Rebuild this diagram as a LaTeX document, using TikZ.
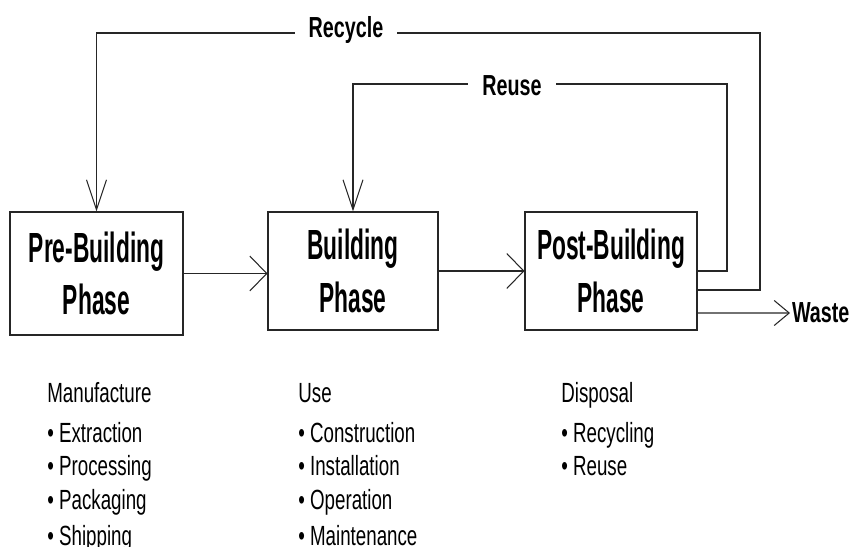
\documentclass[tikz,border=0pt]{standalone}
\usepackage{fontspec}
\setmainfont{Liberation Sans}
\newfontfamily\phasefont[FakeStretch=0.54]{Liberation Sans}
\newfontfamily\flowfont[FakeStretch=0.68]{Liberation Sans}
\newfontfamily\listfont[FakeStretch=0.675]{Liberation Sans}
\usetikzlibrary{arrows.meta}

\tikzset{
  phase/.style={draw=black!85,line width=.6pt,minimum height=2.36cm,inner sep=0pt,align=center,
    font=\phasefont\bfseries\fontsize{24}{31}\selectfont},
  flow/.style={inner sep=1pt,font=\flowfont\bfseries\fontsize{16.5}{18}\selectfont},
  listitem/.style={anchor=base west,inner sep=0pt,font=\listfont\fontsize{15.8}{18}\selectfont},
  link/.style={draw=black!85,line width=.6pt},
  harr/.style={link,-{Straight Barb[length=0.34cm,width=0.7cm]}},
  varr/.style={link,-{Straight Barb[length=0.6cm,width=0.4cm]}},
  warr/.style={link,-{Straight Barb[length=0.3cm,width=0.5cm]}}
}

\begin{document}
\begin{tikzpicture}[x=0.02cm,y=-0.02cm]
      \useasboundingbox (0,0) rectangle (849,547);

      % phases
      \node[phase,minimum width=3.46cm,minimum height=2.46cm] (pre) at (96.5,273.5) {Pre-Building\\[-1pt]Phase};
      \node[phase,minimum width=3.4cm] (bld) at (353,271) {Building\\[-1pt]Phase};
      \node[phase,minimum width=3.44cm] (post) at (611,271) {Post-Building\\[-1pt]Phase};

      \draw[harr] (pre.east) -- (pre.east -| bld.west);
      \draw[harr] (bld.east) -- (post.west);

      % loops back
      \coordinate (ruR) at (727,84);
      \coordinate (rcyR) at (760,33);
      \draw[varr] (post.east) -| (ruR) -| (bld.north);
      \draw[varr] ([yshift=-0.38cm]post.east) -| (rcyR) -| (pre.north);
      \node[flow,fill=white,inner xsep=8pt] (reuse) at (512,86) {Reuse};
      \node[flow,fill=white,inner xsep=8pt] (recycle) at (346,30) {Recycle};

      \node[flow,anchor=west] (waste) at (790,313) {Waste};
      \draw[warr] ([yshift=-0.84cm]post.east) -- (waste.west);

      % stages
      \node[listitem] (mfg) at (47,402) {Manufacture};
      \node[listitem] (mfg1) at (47,442) {• Extraction};
      \node[listitem] (mfg2) at (47,475) {• Processing};
      \node[listitem] (mfg3) at (47,509) {• Packaging};
      \node[listitem] (mfg4) at (47,545) {• Shipping};

      \node[listitem] (use) at (298,402) {Use};
      \node[listitem] (use1) at (298,442) {• Construction};
      \node[listitem] (use2) at (298,475) {• Installation};
      \node[listitem] (use3) at (298,509) {• Operation};
      \node[listitem] (use4) at (298,545) {• Maintenance};

      \node[listitem] (disp) at (561,402) {Disposal};
      \node[listitem] (disp1) at (561,442) {• Recycling};
      \node[listitem] (disp2) at (561,475) {• Reuse};
\end{tikzpicture}
\end{document}
